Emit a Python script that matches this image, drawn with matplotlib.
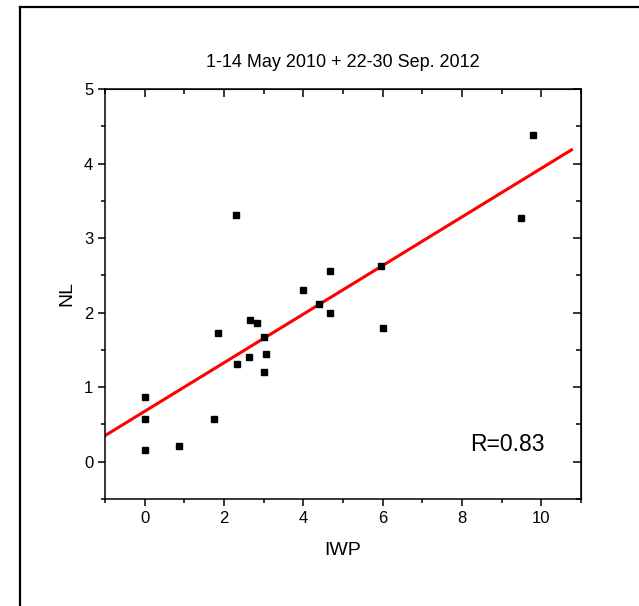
import matplotlib as mpl
mpl.use('agg')
import matplotlib.pyplot as plt
from matplotlib.lines import Line2D
from matplotlib.ticker import MultipleLocator
import numpy as np

plt.rcParams['font.family'] = ['Liberation Sans', 'DejaVu Sans']

# IWP vs NL
iwp = [0.0, 0.0, 0.0, 0.87, 1.75, 1.85, 2.32, 2.62, 2.65, 2.83, 3.02,
       3.06, 3.00, 3.99, 2.30, 4.67, 5.97, 9.49, 9.78, 4.40, 4.68, 6.01]
nl = [0.87, 0.57, 0.16, 0.21, 0.57, 1.73, 1.31, 1.40, 1.90, 1.86, 1.67,
      1.45, 1.21, 2.31, 3.31, 2.56, 2.63, 3.27, 4.38, 2.11, 2.00, 1.80]

# fitted line (as drawn)
fit_slope = 0.326
fit_intercept = 0.676
fit_range = [-1.0, 10.76]

title = '1-14 May 2010 + 22-30 Sep. 2012'
r_text = 'R=0.83'

fig = plt.figure(figsize=(6.39, 6.06), dpi=100)
ax = fig.add_axes([105/639, 107/606, 476/639, 410/606])

ax.plot(iwp, nl, 's', color='black', markersize=5, zorder=3)
fx = np.array(fit_range)
ax.plot(fx, fit_intercept + fit_slope*fx, color='#ff0000', lw=2.2, zorder=2)

ax.set_xlim(-1, 11)
ax.set_ylim(-0.5, 5)
ax.xaxis.set_major_locator(MultipleLocator(2))
ax.xaxis.set_minor_locator(MultipleLocator(1))
ax.yaxis.set_major_locator(MultipleLocator(1))
ax.yaxis.set_minor_locator(MultipleLocator(0.5))
ax.tick_params(which='both', direction='out', width=1.1, labelsize=12)
ax.tick_params(which='major', length=5)
ax.tick_params(which='minor', length=3)
for sp in ax.spines.values():
    sp.set_linewidth(1.1)

# mirrored axes with inward ticks, like Origin
top = ax.secondary_xaxis('top')
top.xaxis.set_major_locator(MultipleLocator(2))
top.xaxis.set_minor_locator(MultipleLocator(1))
top.tick_params(which='both', direction='in', labeltop=False, width=1.1)
top.tick_params(which='major', length=6)
top.tick_params(which='minor', length=3.5)
right = ax.secondary_yaxis('right')
right.yaxis.set_major_locator(MultipleLocator(1))
right.yaxis.set_minor_locator(MultipleLocator(0.5))
right.tick_params(which='both', direction='in', labelright=False, width=1.1)
right.tick_params(which='major', length=5.5)
right.tick_params(which='minor', length=3.5)

ax.set_xlabel('IWP', fontsize=14, labelpad=12)
ax.set_ylabel('NL', fontsize=14, labelpad=6)
ax.set_title(title, fontsize=13, pad=16)
ax.text(9.14, 0.23, r_text, fontsize=16.5, ha='center', va='center')

# outer frame (left and top edges only visible)
fig.add_artist(Line2D([20/639, 20/639], [0, 1 - 7/606], color='black', lw=1.6))
fig.add_artist(Line2D([20/639, 1], [1 - 7/606, 1 - 7/606], color='black', lw=1.6))

plt.savefig('out.png', dpi=100)
